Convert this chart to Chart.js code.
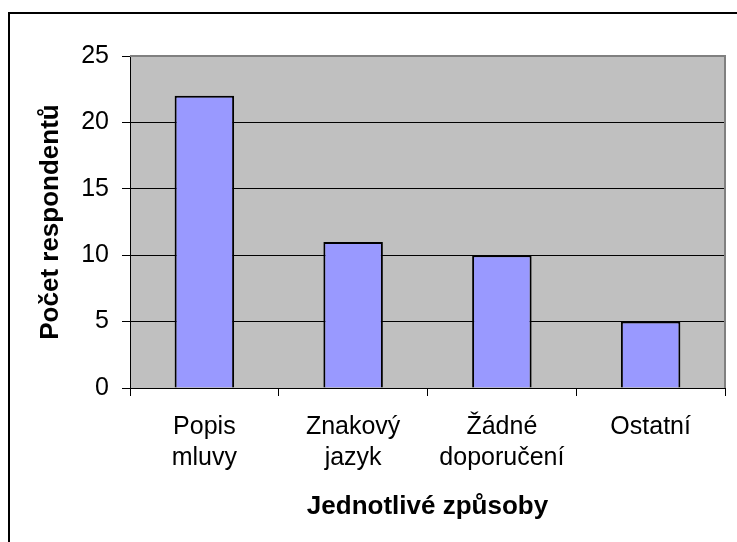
<!DOCTYPE html>
<html>
<head>
<meta charset="utf-8">
<script src="https://cdn.jsdelivr.net/npm/chart.js@4/dist/chart.umd.min.js"></script>
<style>
  html, body { margin: 0; padding: 0; background: #fff; }
  canvas { display: block; }
</style>
</head>
<body>
<canvas id="c" width="737" height="542"></canvas>
<script>
const categories = [["Popis", "mluvy"], ["Znakový", "jazyk"], ["Žádné", "doporučení"], ["Ostatní"]];
const respondents = [22, 11, 10, 5];
const yTicks = [0, 5, 10, 15, 20, 25];
const xTitle = "Jednotlivé způsoby";
const yTitle = "Počet respondentů";

const FONT = "'Liberation Sans', Arial, Helvetica, sans-serif";

const decor = {
  id: 'decor',
  beforeDraw(chart) {
    const ctx = chart.ctx, a = chart.chartArea;
    ctx.save();
    ctx.fillStyle = '#000';
    ctx.fillRect(8, 12, 2, 542);
    ctx.fillRect(8, 12, 737, 2);
    ctx.fillStyle = '#C0C0C0';
    ctx.fillRect(a.left, a.top, a.right - a.left, a.bottom - a.top);
    ctx.restore();
  },
  afterDraw(chart) {
    const ctx = chart.ctx, a = chart.chartArea;
    ctx.save();
    ctx.strokeStyle = '#808080';
    ctx.lineWidth = 2;
    ctx.beginPath();
    ctx.moveTo(a.left, a.top);
    ctx.lineTo(a.right, a.top);
    ctx.lineTo(a.right, a.bottom);
    ctx.stroke();
    ctx.restore();
  }
};

new Chart(document.getElementById('c'), {
  type: 'bar',
  data: {
    labels: categories,
    datasets: [{
      data: respondents,
      backgroundColor: '#9999FF',
      borderColor: '#000000',
      borderWidth: 2,
      barPercentage: 0.4,
      categoryPercentage: 1.0
    }]
  },
  options: {
    responsive: false,
    animation: false,
    layout: { padding: { left: 25, top: 56, right: 12, bottom: 18 } },
    plugins: { legend: { display: false }, tooltip: { enabled: false } },
    scales: {
      x: {
        afterFit(s) { s.height = 136; },
        grid: { drawOnChartArea: false, drawTicks: true, tickLength: 8, color: '#000', lineWidth: 1 },
        border: { display: true, color: '#000', width: 1 },
        ticks: {
          color: '#000',
          font: { family: FONT, size: 25, lineHeight: 1.24 },
          padding: 16,
          maxRotation: 0,
          autoSkip: false
        },
        title: {
          display: true,
          text: xTitle,
          color: '#000',
          font: { family: FONT, size: 26, weight: 'bold' },
          padding: { top: 0, bottom: 2 }
        }
      },
      y: {
        min: 0,
        max: 25,
        afterFit(s) { s.width = 105; },
        afterBuildTicks(s) { s.ticks = yTicks.map(v => ({ value: v })); },
        grid: { color: '#000', lineWidth: 1, tickLength: 8, drawTicks: true },
        border: { display: true, color: '#000', width: 1 },
        ticks: {
          color: '#000',
          font: { family: FONT, size: 25 },
          padding: 13
        },
        title: {
          display: true,
          text: yTitle,
          color: '#000',
          font: { family: FONT, size: 26, weight: 'bold' },
          padding: { top: 10, bottom: 0 }
        }
      }
    }
  },
  plugins: [decor]
});
</script>
</body>
</html>
